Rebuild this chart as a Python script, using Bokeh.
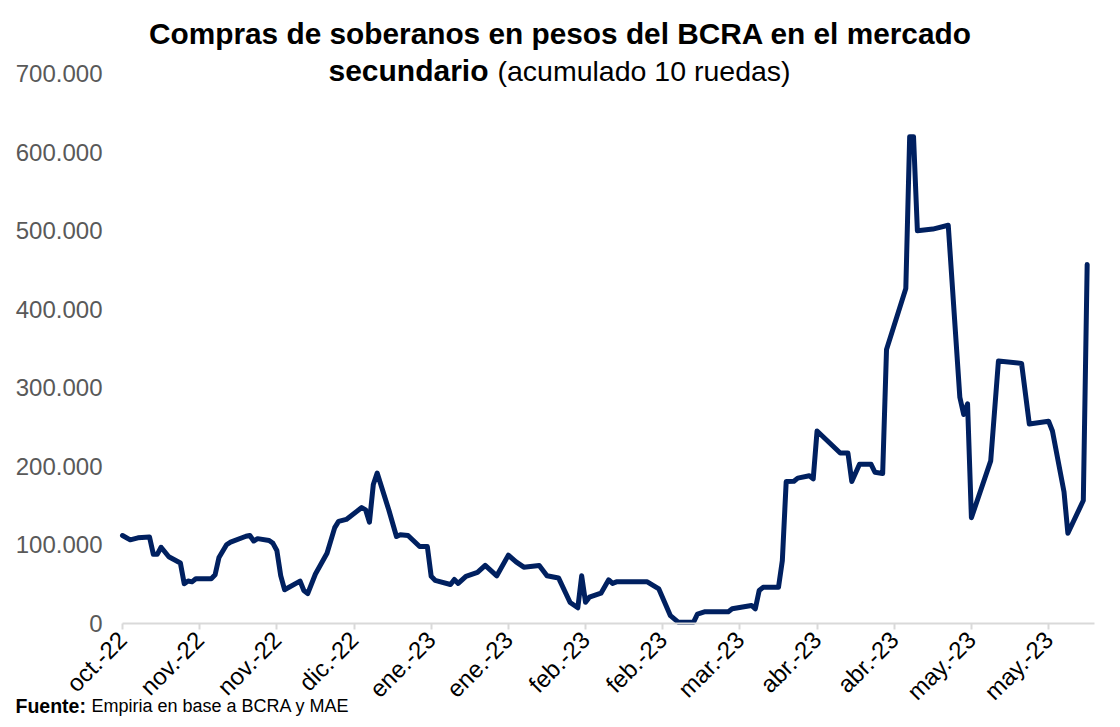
import math
from bokeh.plotting import figure
from bokeh.models import Range1d, FixedTicker, Label
from bokeh.embed import file_html
from bokeh.resources import INLINE

# ---- data (trading-day index, accumulated 10-day purchases) ----
dias = [0, 2, 4, 7, 8, 9, 10, 12, 15, 16, 17, 18, 19, 23, 24, 25, 27, 28, 32, 33,
        34, 35, 38, 39, 40, 41, 42, 46, 47, 48, 50, 53, 55, 56, 58, 62, 63, 64, 65, 66,
        69, 71, 72, 74, 77, 79, 80, 81, 85, 86, 87, 89, 92, 94, 97, 100, 102, 104, 108, 110,
        113, 116, 118, 119, 120, 121, 124, 126, 127, 128, 136, 139, 142, 144, 148, 149, 151, 157, 158, 163,
        164, 165, 166, 170, 171, 172, 174, 175, 178, 179, 180, 186, 188, 189, 191, 194, 195, 197, 198, 203,
        204, 205, 206, 210, 214, 217, 218, 219, 220, 225, 227, 233, 235, 240, 241, 244, 245, 249, 250]

compras = [112000, 106500, 109000, 110000, 88000, 88000, 97000, 85000, 77000, 50500,
           54000, 53000, 57000, 57000, 62000, 84000, 100500, 103500, 111000, 112000,
           105000, 108000, 105600, 102000, 93000, 61000, 43000, 54000, 42000, 38000,
           63000, 89500, 122000, 130000, 132500, 147500, 144700, 129000, 177000, 191500,
           144700, 110700, 113000, 112000, 98000, 98000, 60000, 55000, 49600, 56000,
           51000, 60000, 65000, 74000, 60700, 87000, 78500, 71700, 73800, 60700,
           58000, 26700, 20000, 60700, 27000, 33500, 38600, 55600, 51000, 53000,
           53000, 44000, 10000, 1700, 1700, 12000, 15000, 15000, 18700, 23000,
           18700, 42000, 46000, 46000, 80000, 180700, 181000, 185000, 188000, 184000,
           245000, 217000, 217000, 180700, 202600, 202600, 192500, 190800, 348700, 426500,
           619600, 619600, 499800, 502000, 506800, 288000, 266000, 279500, 134600, 207000,
           334000, 331000, 254000, 257500, 245000, 167500, 114800, 156500, 457000]

x_tick_pos = [0, 20, 40, 60, 80, 100, 120, 140, 160, 180, 200, 220, 240]
x_tick_labels = ["oct.-22", "nov.-22", "nov.-22", "dic.-22", "ene.-23", "ene.-23", "feb.-23",
                 "feb.-23", "mar.-23", "abr.-23", "abr.-23", "may.-23", "may.-23"]
y_tick_pos = [0, 100000, 200000, 300000, 400000, 500000, 600000, 700000]
y_tick_labels = ["0", "100.000", "200.000", "300.000", "400.000", "500.000", "600.000", "700.000"]

# ---- layout: the frame fills the canvas, axes sit at fixed data locations ----
W, H = 1120, 727
AX_L, AX_R, AX_T, AX_B = 122, 1094, 73, 623      # pixel box of the drawn axes
X_AX_END, Y_AX_END = 251.9, 700000                # data extent of the drawn axes
FONT = "Liberation Sans"

ux = X_AX_END / (AX_R - AX_L)      # data units per pixel
uy = Y_AX_END / (AX_B - AX_T)
X_START, X_END = -AX_L * ux, (W - AX_L) * ux
Y_START, Y_END = -(H - AX_B) * uy, AX_B * uy


def dx(px):
    return X_START + px * ux


def dy(py):
    return Y_END - py * uy


p = figure(width=W, height=H, output_backend="svg", toolbar_location=None,
           x_range=Range1d(X_START, X_END), y_range=Range1d(Y_START, Y_END),
           min_border_left=0, min_border_right=0, min_border_top=0, min_border_bottom=0)
p.outline_line_color = None
p.grid.visible = False
p.background_fill_color = "white"
p.border_fill_color = "white"

p.line(dias, compras, line_color="#002060", line_width=5,
       line_join="round", line_cap="round")

xa = p.xaxis[0]
xa.fixed_location = 0
xa.bounds = (0, X_AX_END)
xa.ticker = FixedTicker(ticks=x_tick_pos)
xa.major_label_overrides = {t: l for t, l in zip(x_tick_pos, x_tick_labels)}
xa.major_label_orientation = math.pi / 4
xa.axis_line_color = "#d9d9d9"
xa.axis_line_width = 2
xa.major_tick_line_color = "#d9d9d9"
xa.major_tick_line_width = 2
xa.major_tick_out = 6
xa.major_tick_in = 0
xa.minor_tick_line_color = None
xa.major_label_standoff = 6
xa.major_label_text_font = FONT
xa.major_label_text_font_size = "24px"
xa.major_label_text_color = "#000000"

ya = p.yaxis[0]
ya.fixed_location = 0
ya.bounds = (0, Y_AX_END)
ya.ticker = FixedTicker(ticks=y_tick_pos)
ya.major_label_overrides = {t: l for t, l in zip(y_tick_pos, y_tick_labels)}
ya.axis_line_color = None
ya.major_tick_line_color = None
ya.minor_tick_line_color = None
ya.major_tick_out = 0
ya.major_tick_in = 0
ya.major_label_standoff = 20
ya.major_label_text_font = FONT
ya.major_label_text_font_size = "24px"
ya.major_label_text_color = "#595959"

# ---- titles ----
p.add_layout(Label(x=dx(560), y=dy(33), text="Compras de soberanos en pesos del BCRA en el mercado",
                   text_font=FONT, text_font_style="bold", text_font_size="29.8px",
                   text_align="center", text_baseline="middle", text_color="black"))
p.add_layout(Label(x=dx(488), y=dy(70), text="secundario",
                   text_font=FONT, text_font_style="bold", text_font_size="30px",
                   text_align="right", text_baseline="middle", text_color="black"))
p.add_layout(Label(x=dx(497), y=dy(70), text="(acumulado 10 ruedas)",
                   text_font=FONT, text_font_style="normal", text_font_size="28.5px",
                   text_align="left", text_baseline="middle", text_color="black"))

# ---- source note ----
p.add_layout(Label(x=dx(15), y=dy(705), text="Fuente:",
                   text_font=FONT, text_font_style="bold", text_font_size="19.5px",
                   text_align="left", text_baseline="middle", text_color="black"))
p.add_layout(Label(x=dx(91), y=dy(705), text="Empiria en base a BCRA y MAE",
                   text_font=FONT, text_font_style="normal", text_font_size="18px",
                   text_align="left", text_baseline="middle", text_color="black"))

open("out.html", "w").write(file_html(p, INLINE))
